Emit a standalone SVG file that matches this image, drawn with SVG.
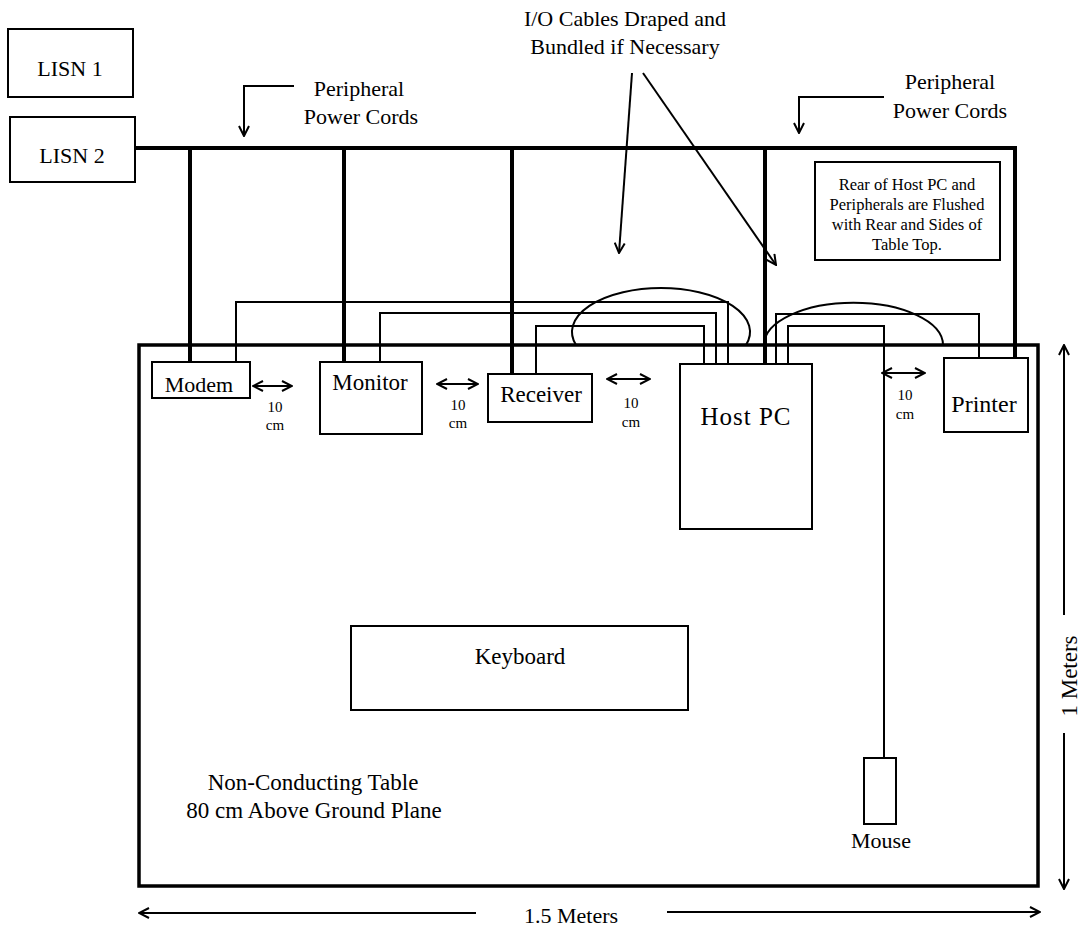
<svg xmlns="http://www.w3.org/2000/svg" width="1081" height="931" viewBox="0 0 1081 931">
<style>
text{font-family:"Liberation Serif","Times New Roman",serif;fill:#000;text-anchor:middle}
.t22{font-size:22px}
.t23{font-size:23px}
.sm{font-size:15px}
.rear{font-size:16.5px}
.box{fill:#fff;stroke:#000;stroke-width:2}
.thin{fill:none;stroke:#000;stroke-width:2}
.pwr{fill:none;stroke:#000;stroke-width:4}
.arr{fill:none;stroke:#000;stroke-width:2}
</style>
<defs>
<marker id="ah" viewBox="0 0 12 12" refX="11" refY="6" markerWidth="12" markerHeight="12" markerUnits="userSpaceOnUse" orient="auto-start-reverse">
<path d="M1,1 L11,6 L1,11" fill="none" stroke="#000" stroke-width="2"/>
</marker>
</defs>
<rect width="1081" height="931" fill="#fff"/>

<g id="table">
<rect x="139" y="345" width="899" height="541" fill="none" stroke="#000" stroke-width="3.5"/>
<text class="t23" x="313" y="790">Non-Conducting Table</text>
<text class="t23" x="314" y="818">80 cm Above Ground Plane</text>
</g>

<g id="connectors">
<!-- power bus -->
<polyline class="pwr" points="135,148 1015,148 1015,358"/>
<line class="pwr" x1="190" y1="148" x2="190" y2="362"/>
<line class="pwr" x1="344" y1="148" x2="344" y2="362"/>
<line class="pwr" x1="512" y1="148" x2="512" y2="374"/>
<line class="pwr" x1="765" y1="148" x2="765" y2="364"/>
<!-- I/O cables -->
<polyline class="thin" points="236,362 236,302 728,302 728,364"/>
<polyline class="thin" points="380,362 380,313 716,313 716,364"/>
<polyline class="thin" points="536,374 536,326 704,326 704,364"/>
<polyline class="thin" points="776,364 776,314 979,314 979,358"/>
<polyline class="thin" points="788,364 788,326 884,326 884,758"/>
<!-- drape loops -->
<path class="thin" d="M576,345 A89,44 0 1 1 746,345"/>
<path class="thin" d="M764,345 A89,42 0 0 1 943,345"/>
<!-- callout arrows -->
<polyline class="arr" points="294,86 244,86 244,136" marker-end="url(#ah)"/>
<polyline class="arr" points="884,97 799,97 799,133" marker-end="url(#ah)"/>
<line class="arr" x1="632" y1="73" x2="619" y2="253" marker-end="url(#ah)"/>
<line class="arr" x1="643" y1="73" x2="776" y2="265" marker-end="url(#ah)"/>
<!-- spacing arrows -->
<line class="arr" x1="253" y1="386" x2="292" y2="386" marker-start="url(#ah)" marker-end="url(#ah)"/>
<line class="arr" x1="437" y1="384" x2="478" y2="384" marker-start="url(#ah)" marker-end="url(#ah)"/>
<line class="arr" x1="607" y1="379" x2="650" y2="379" marker-start="url(#ah)" marker-end="url(#ah)"/>
<line class="arr" x1="882" y1="373" x2="925" y2="373" marker-start="url(#ah)" marker-end="url(#ah)"/>
<!-- dimension arrows -->
<line class="arr" x1="476" y1="913" x2="139" y2="913" marker-end="url(#ah)"/>
<line class="arr" x1="667" y1="912" x2="1040" y2="912" marker-end="url(#ah)"/>
<line class="arr" x1="1064" y1="615" x2="1064" y2="345" marker-end="url(#ah)"/>
<line class="arr" x1="1064" y1="733" x2="1064" y2="889" marker-end="url(#ah)"/>
</g>

<g id="labels">
<text class="t22" x="359" y="96">Peripheral</text>
<text class="t22" x="361" y="124">Power Cords</text>
<text class="t22" x="950" y="89">Peripheral</text>
<text class="t22" x="950" y="118">Power Cords</text>
<text class="t22" x="625" y="26">I/O Cables Draped and</text>
<text class="t22" x="625" y="54">Bundled if Necessary</text>
<text class="sm" x="275" y="412">10</text>
<text class="sm" x="275" y="430">cm</text>
<text class="sm" x="458" y="410">10</text>
<text class="sm" x="458" y="428">cm</text>
<text class="sm" x="631" y="408">10</text>
<text class="sm" x="631" y="427">cm</text>
<text class="sm" x="905" y="400">10</text>
<text class="sm" x="905" y="419">cm</text>
<text class="t22" x="571" y="923">1.5 Meters</text>
<text class="t23" transform="translate(1077,676) rotate(-90)">1 Meters</text>
</g>

<g id="lisn1">
<rect class="box" x="8" y="29" width="125" height="68"/>
<text class="t22" x="70" y="76">LISN 1</text>
</g>
<g id="lisn2">
<rect class="box" x="10" y="117" width="125" height="65"/>
<text class="t22" x="72" y="163">LISN 2</text>
</g>
<g id="modem">
<rect class="box" x="152" y="362" width="98" height="36"/>
<text class="t22" x="199" y="392">Modem</text>
</g>
<g id="monitor">
<rect class="box" x="320" y="362" width="102" height="72"/>
<text class="t23" x="370" y="390">Monitor</text>
</g>
<g id="receiver">
<rect class="box" x="488" y="374" width="104" height="48"/>
<text class="t23" x="541" y="402">Receiver</text>
</g>
<g id="hostpc">
<rect class="box" x="680" y="364" width="132" height="165"/>
<text x="746" y="425" style="font-size:25px;letter-spacing:1px">Host PC</text>
</g>
<g id="printer">
<rect class="box" x="944" y="358" width="84" height="74"/>
<text x="984" y="412" style="font-size:24px">Printer</text>
</g>
<g id="keyboard">
<rect class="box" x="351" y="626" width="337" height="84"/>
<text class="t23" x="520" y="664">Keyboard</text>
</g>
<g id="mouse">
<rect class="box" x="864" y="758" width="32" height="66"/>
<text class="t22" x="881" y="848">Mouse</text>
</g>
<g id="note">
<rect class="box" x="815" y="162" width="185" height="98"/>
<text class="rear" x="907" y="190">Rear of Host PC and</text>
<text class="rear" x="907" y="210">Peripherals are Flushed</text>
<text class="rear" x="907" y="230">with Rear and Sides of</text>
<text class="rear" x="907" y="250">Table Top.</text>
</g>
</svg>
